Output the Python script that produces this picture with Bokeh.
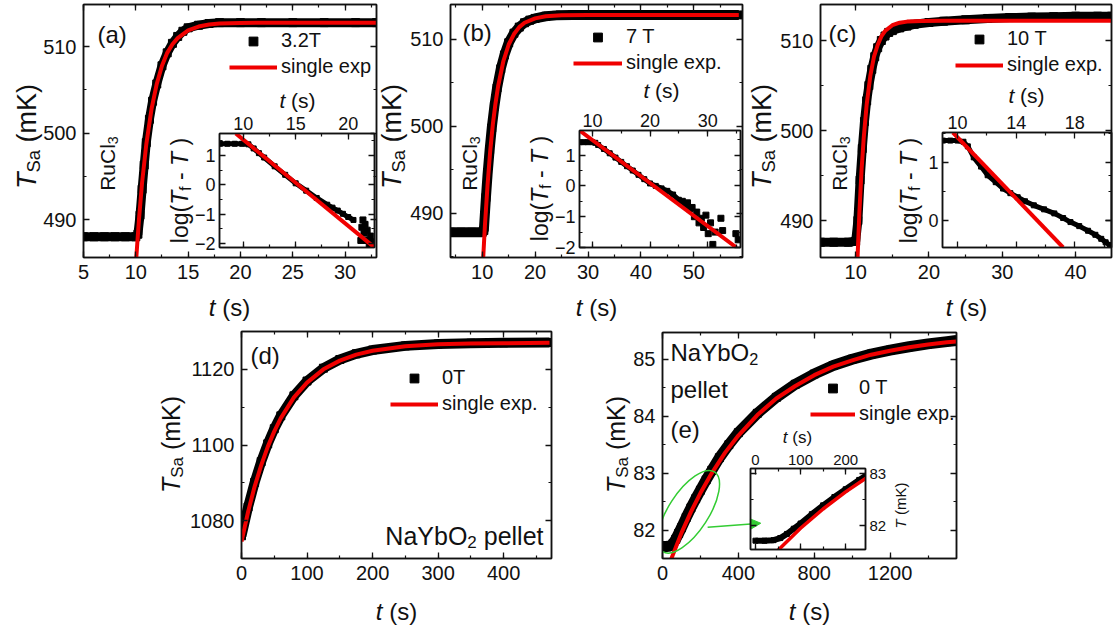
import math
from bokeh.plotting import figure
from bokeh.models import (Column, Label, Legend, LegendItem, LinearAxis, Range1d,
                          SingleIntervalTicker, FixedTicker, Arrow, NormalHead)
from bokeh.embed import file_html
from bokeh.resources import INLINE

FONT = "Liberation Sans"
INK = "#111111"
RED = "#f00000"
GREEN = "#33cc33"

# ---------------- data ----------------
# (a) RuCl3, 3.2 T
A_T = [5, 6, 7, 8, 9, 10, 10.2, 10.4, 10.6, 10.8, 11.0, 11.3, 11.6, 12.0, 12.5, 13.0, 13.5,
       14.0, 14.5, 15.0, 16.0, 17.0, 18.0, 20.0, 22.0, 25.0, 28.0, 31.0, 33.0]
A_DATA = [488.0, 488.0, 488.0, 488.0, 488.0, 488.0, 488.3, 490.5, 493.5, 496.3, 498.9, 501.6,
          503.7, 505.7, 507.8, 509.3, 510.4, 511.2, 511.8, 512.2, 512.5, 512.7, 512.8, 512.8,
          512.8, 512.8, 512.8, 512.8, 512.8]
A_FIT_T = [10.0, 10.3, 10.6, 11.0, 11.5, 12.0, 12.5, 13.0, 13.5, 14.0, 15.0, 16.0, 17.0, 18.0,
           20.0, 25.0, 33.0]
A_FIT = [484.8, 490.0, 494.3, 498.7, 502.8, 505.7, 507.8, 509.3, 510.3, 511.0, 511.9, 512.35,
         512.58, 512.69, 512.77, 512.8, 512.8]
AI_T = [7.8, 8.5, 9.2, 9.9, 10.5, 11.0, 11.5, 12.0, 13.0, 14.0, 15.0, 16.0, 17.0, 18.0, 18.5,
        19.0, 19.5, 20.0, 20.5]
AI_LOG = [1.4, 1.4, 1.4, 1.4, 1.38, 1.24, 1.08, 0.93, 0.63, 0.34, 0.05, -0.2, -0.45, -0.68,
          -0.78, -0.88, -0.99, -1.1, -1.2]
AI_TAIL_T = [21.2, 21.3, 21.4, 21.5, 21.6, 21.7, 21.8, 22.0, 22.1, 22.3, 22.4]
AI_TAIL_LOG = [-1.9, -1.45, -1.2, -1.65, -1.35, -1.9, -1.55, -2.05, -1.75, -1.95, -2.1]
AI_FIT_T = [9.3, 22.5]
AI_FIT = [1.75, -2.14]

# (b) RuCl3, 7 T
B_T = [4.0, 6.0, 8.0, 10.0, 10.3, 10.7, 11.0, 11.4, 11.8, 12.3, 12.8, 13.5, 14.2, 15.0, 16.0,
       17.0, 18.0, 19.0, 20.0, 22.0, 24.0, 27.0, 30.0, 35.0, 40.0, 45.0, 50.0, 55.0, 58.5]
B_DATA = [487.8, 487.8, 487.8, 487.8, 488.0, 491.8, 494.4, 497.3, 499.8, 502.3, 504.4, 506.6,
          508.2, 509.6, 510.7, 511.4, 511.9, 512.2, 512.4, 512.65, 512.75, 512.8, 512.8, 512.8,
          512.8, 512.8, 512.8, 512.8, 512.8]
B_FIT_T = [10.1, 10.5, 11.0, 11.5, 12.0, 12.5, 13.0, 14.0, 15.0, 16.0, 17.0, 18.0, 20.0, 22.0,
           25.0, 30.0, 58.5]
B_FIT = [483.9, 488.5, 493.2, 497.1, 500.2, 502.6, 504.6, 507.5, 509.4, 510.6, 511.4, 511.9,
         512.4, 512.64, 512.76, 512.8, 512.8]
BI_T = [7.8, 8.5, 9.2, 10.0, 10.5, 11.0, 12.0, 13.0, 14.0, 15.0, 16.0, 17.0, 18.0, 19.0, 20.0,
        21.0, 22.0, 23.0, 24.0, 25.0]
BI_LOG = [1.42, 1.42, 1.42, 1.42, 1.4, 1.33, 1.2, 1.06, 0.92, 0.78, 0.64, 0.5, 0.36, 0.22, 0.08,
          0.0, -0.08, -0.16, -0.28, -0.45]
BI_TAIL_T = [25.6, 26.1, 26.5, 26.9, 27.3, 27.7, 28.1, 28.5, 28.9, 29.3, 29.7, 30.1, 30.5,
             30.9, 31.3, 32.3, 32.6, 34.9, 35.3]
BI_TAIL_LOG = [-0.5, -0.62, -0.55, -0.75, -0.7, -1.0, -0.85, -1.2, -1.05, -1.35, -0.95, -1.55,
               -1.2, -1.9, -1.5, -1.05, -1.45, -1.55, -1.75]
BI_FIT_T = [7.76, 35.0]
BI_FIT = [1.8, -2.0]

# (c) RuCl3, 10 T
C_T = [5.2, 7, 9, 10.0, 10.3, 10.6, 10.9, 11.2, 11.5, 11.8, 12.2, 12.6, 13.0, 13.5, 14.0, 14.5,
       15.0, 16.0, 17.0, 18.0, 20.0, 22.0, 25.0, 28.0, 31.0, 34.0, 37.0, 40.0, 43.0, 44.9]
C_DATA = [487.6, 487.6, 487.6, 487.7, 490.0, 494.5, 498.0, 501.0, 503.3, 505.0, 506.8, 508.2,
          509.2, 510.0, 510.5, 510.9, 511.1, 511.4, 511.6, 511.8, 512.0, 512.15, 512.3, 512.45,
          512.55, 512.6, 512.65, 512.7, 512.7, 512.7]
C_FIT_T = [10.2, 10.5, 10.8, 11.1, 11.5, 12.0, 12.5, 13.0, 13.5, 14.0, 15.0, 16.0, 17.0, 19.0,
           22.0, 44.9]
C_FIT = [484.8, 490.8, 495.6, 499.2, 502.9, 506.1, 508.2, 509.5, 510.45, 511.05, 511.7, 511.98,
         512.1, 512.18, 512.2, 512.2]
CI_T = [9.0, 9.5, 10.0, 10.4, 10.7, 11.1, 11.6, 12.05, 12.6, 13.1, 13.6, 14.1, 14.6, 15.2, 15.9,
        16.6, 17.2, 17.7, 18.3, 18.9, 19.4, 19.8, 20.1, 20.4]
CI_LOG = [1.38, 1.38, 1.38, 1.36, 1.28, 1.09, 0.93, 0.78, 0.66, 0.55, 0.47, 0.40, 0.33, 0.26,
          0.19, 0.12, 0.04, -0.03, -0.1, -0.18, -0.25, -0.32, -0.38, -0.43]
CI_FIT_T = [9.68, 17.2]
CI_FIT = [1.52, -0.47]
CI_XTICKS = [10, 14, 18]
CI_XMINOR = [12, 16, 20]

# (d) NaYbO2 pellet, 0 T, ~1.1 K
D_T = [0, 10, 20, 30, 40, 50, 60, 80, 100, 125, 150, 175, 200, 250, 300, 350, 400, 470]
D_DATA = [1076.0, 1083.6, 1090.1, 1095.6, 1100.3, 1104.3, 1107.7, 1113.0, 1116.9, 1120.3,
          1122.6, 1124.1, 1125.1, 1126.2, 1126.7, 1126.9, 1127.0, 1127.1]
D_FIT = [1074.5, 1082.3, 1089.0, 1094.6, 1099.5, 1103.6, 1107.1, 1112.6, 1116.5, 1120.0,
         1122.3, 1123.9, 1124.9, 1126.1, 1126.6, 1126.8, 1126.9, 1127.0]

# (e) NaYbO2 pellet, 0 T, ~85 mK
E_T = [0, 20, 40, 55, 70, 85, 100, 125, 150, 175, 200, 230, 260, 300, 350, 400, 500, 600, 700,
       800, 900, 1000, 1100, 1200, 1300, 1400, 1500, 1550]
E_DATA = [81.71, 81.71, 81.72, 81.76, 81.84, 81.94, 82.04, 82.22, 82.39, 82.55, 82.7, 82.88,
          83.05, 83.27, 83.5, 83.71, 84.05, 84.33, 84.56, 84.74, 84.89, 85.0, 85.09, 85.16,
          85.22, 85.27, 85.31, 85.33]
E_FIT_T = [40, 100, 150, 200, 260, 330, 400, 500, 600, 700, 800, 900, 1000, 1100, 1200, 1300,
           1400, 1500, 1550]
E_FIT = [81.44, 81.95, 82.32, 82.65, 83.0, 83.36, 83.66, 84.02, 84.31, 84.53, 84.72, 84.87,
         84.98, 85.08, 85.15, 85.21, 85.26, 85.3, 85.31]

# ---------------- panel geometry (canvas px): outer box and plot frame ----------------
BOX_A, FA = (0, 0, 380, 320), (83, 4, 376, 257)
BOX_B, FB = (380, 0, 365, 320), (450, 4, 742, 257)
BOX_C, FC = (745, 0, 368, 320), (820, 4, 1111, 257)
BOX_D, FD = (150, 320, 410, 310), (241, 331, 551, 558)
BOX_E, FE = (560, 320, 553, 310), (662, 332, 956, 558)
BOX_AI, FAI = (165, 85, 212, 177), (219, 133, 374, 247)
BOX_BI, FBI = (525, 82, 218, 180), (579, 130, 740, 247)
BOX_CI, FCI = (888, 84, 225, 178), (942, 132, 1111, 247)
BOX_EI, FEI = (745, 420, 175, 140), (750, 468, 865, 549)
PAGE_W, PAGE_H = 1113, 630


def pin(p, left, top, width, height):
    p.frame_align = False
    p.stylesheets = [f":host {{ position: absolute !important; left: {left}px !important; "
                     f"top: {top}px !important; width: {width}px !important; "
                     f"height: {height}px !important; }}"]


def make_panel(box, frame, xr, yr, xt, yt, labelled=("below", "left"), tick_px=20,
               standoff=6, inset=False, xfixed=None):
    left, top, width, height = box
    fl, ft, fr, fb = frame
    p = figure(width=width, height=height, x_range=Range1d(*xr), y_range=Range1d(*yr),
               output_backend="svg", toolbar_location=None, tools="",
               x_axis_location=None, y_axis_location=None)
    p.min_border_left = fl - left
    p.min_border_top = ft - top
    p.min_border_right = left + width - fr
    p.min_border_bottom = top + height - fb
    p.grid.visible = False
    p.outline_line_color = INK
    p.outline_line_width = 1.5
    if inset:
        p.border_fill_alpha = 0
        p.background_fill_alpha = 0
    else:
        p.border_fill_color = "white"
        p.background_fill_color = "white"
    for side in ("below", "above", "left", "right"):
        horizontal = side in ("below", "above")
        if horizontal and xfixed is not None:
            ticker = FixedTicker(ticks=xfixed[0], minor_ticks=xfixed[1])
        else:
            ticker = SingleIntervalTicker(interval=xt if horizontal else yt, num_minor_ticks=2)
        ax = LinearAxis(ticker=ticker)
        ax.axis_line_color = INK
        ax.axis_line_width = 1.5
        ax.major_tick_in, ax.major_tick_out = 6, 0
        ax.minor_tick_in, ax.minor_tick_out = 3, 0
        ax.major_tick_line_color = INK
        ax.minor_tick_line_color = INK
        ax.major_tick_line_width = 1.3
        ax.minor_tick_line_width = 1.2
        ax.major_label_text_font = FONT
        ax.axis_label = None
        ax.axis_label_standoff = 0
        if side in labelled:
            ax.major_label_text_color = INK
            ax.major_label_text_font_size = f"{tick_px}px"
            ax.major_label_standoff = standoff
        else:
            # mirror axis: ticks only
            ax.major_label_text_color = None
            ax.major_label_text_font_size = "0px"
            ax.major_label_standoff = 0
        p.add_layout(ax, side)
    pin(p, left, top, width, height)
    return p


def band(p, xs, ys, lw, ms):
    p.line(xs, ys, line_width=lw, color="black")
    return p.scatter(xs, ys, marker="square", size=ms, color="black")


def fit(p, xs, ys, lw=4):
    return p.line(xs, ys, line_width=lw, color=RED)


def legend(p, frame, sq, ln, lab1, lab2, gx, row1, gw, size=20):
    fl, ft, fr, fb = frame
    leg = Legend(items=[LegendItem(label=lab1, renderers=[sq]),
                        LegendItem(label=lab2, renderers=[ln])],
                 location=(gx - fl, fb - (row1 + 25 + 11)))
    leg.glyph_width = gw
    leg.glyph_height = 22
    leg.label_height = 22
    leg.label_standoff = 4
    leg.spacing = 3
    leg.padding = 0
    leg.margin = 0
    leg.border_line_alpha = 0
    leg.background_fill_alpha = 0
    leg.label_text_font = FONT
    leg.label_text_font_size = f"{size}px"
    leg.label_text_color = INK
    p.add_layout(leg)


# ---------------- text layer over the whole page ----------------
pT = figure(width=PAGE_W, height=PAGE_H, x_range=Range1d(0, PAGE_W), y_range=Range1d(PAGE_H, 0),
            output_backend="svg", toolbar_location=None, tools="",
            x_axis_location=None, y_axis_location=None, min_border=0)
pT.grid.visible = False
pT.outline_line_color = None
pT.border_fill_alpha = 0
pT.background_fill_alpha = 0
pin(pT, 0, 0, PAGE_W, PAGE_H)

ADV = {' ': .278, '(': .333, ')': .333, '-': .333, '.': .278, 'C': .722, 'K': .667, 'N': .722,
       'O': .778, 'R': .722, 'S': .667, 'T': .611, 'Y': .667, 'a': .556, 'b': .556, 'e': .556,
       'f': .278, 'g': .556, 'l': .222, 'm': .833, 'o': .556, 'p': .556, 's': .5, 't': .278,
       'u': .556, 'x': .5, 'i': .222, 'n': .556}
SUB = 0.68


def text_width(s, size):
    return sum(ADV.get(c, 0.556) for c in s) * size


def rich(cx, cy, pieces, size, angle=0.0, align="center"):
    """Run of styled pieces; (cx, cy) is the text's middle line in page pixels."""
    sizes = [size * SUB if k == "sub" else size for (_, _, k) in pieces]
    widths = [text_width(t, s) for (t, _, _), s in zip(pieces, sizes)]
    total = sum(widths)
    pos = {"left": 0.0, "center": -total / 2, "right": -total}[align]
    for (t, style, kind), s, w in zip(pieces, sizes, widths):
        lead = len(t) - len(t.lstrip(" "))
        core = t.strip(" ")
        off = pos + lead * ADV[" "] * s
        drop = size * 0.26 if kind == "sub" else 0.0
        if angle == 0:
            px, py = cx + off, cy + drop
        else:
            px, py = cx + drop, cy - off
        if core:
            pT.add_layout(Label(x=px, y=py, text=core, angle=angle,
                                text_font=FONT, text_font_size=f"{s:.1f}px",
                                text_font_style=style, text_color=INK,
                                text_align="left", text_baseline="middle"))
        pos += w


XL = [("t", "italic", "n"), (" (s)", "normal", "n")]
YL = [("T", "italic", "n"), ("Sa", "normal", "sub"), (" (mK)", "normal", "n")]
LOGL = [("log(", "normal", "n"), ("T", "italic", "n"), ("f", "normal", "sub"),
        (" - ", "normal", "n"), ("T", "italic", "n"), (" )", "normal", "n")]
RU = [("RuCl", "normal", "n"), ("3", "normal", "sub")]
NA = [("NaYbO", "normal", "n"), ("2", "normal", "sub")]
UP = math.pi / 2

# ---- (a) ----
pA = make_panel(BOX_A, FA, (5, 33.0), (485.6, 514.9), 5, 10, standoff=7)
sqA = band(pA, A_T, A_DATA, 9, 8)
lnA = fit(pA, A_FIT_T, A_FIT)
legend(pA, FA, sqA, lnA, "3.2T", "single exp", 229, 42, 48)
rich(97, 34, [("(a)", "normal", "n")], 24, align="left")
rich(107, 163, RU, 21, angle=UP)
rich(26, 136, YL, 27, angle=UP)
rich(229, 307, XL, 24)

# ---- (b) ----
pB = make_panel(BOX_B, FB, (4.0, 59.2), (484.9, 514.0), 10, 10, standoff=7)
sqB = band(pB, B_T, B_DATA, 10, 8)
lnB = fit(pB, B_FIT_T, B_FIT)
legend(pB, FB, sqB, lnB, "7 T", "single exp.", 573, 38, 49)
rich(462, 32, [("(b)", "normal", "n")], 24, align="left")
rich(469, 163, RU, 21, angle=UP)
rich(391, 136, YL, 27, angle=UP)
rich(596, 307, XL, 24)

# ---- (c) ----
pC = make_panel(BOX_C, FC, (5.2, 44.9), (485.9, 514.0), 10, 10, standoff=7)
sqC = band(pC, C_T, C_DATA, 9, 8)
lnC = fit(pC, C_FIT_T, C_FIT)
legend(pC, FC, sqC, lnC, "10 T", "single exp.", 955, 40, 48)
rich(828, 33, [("(c)", "normal", "n")], 24, align="left")
rich(839, 163, RU, 21, angle=UP)
rich(761, 136, YL, 27, angle=UP)
rich(966, 307, XL, 24)

# ---- (d) ----
pD = make_panel(BOX_D, FD, (0, 473), (1070, 1130), 100, 20, standoff=7)
sqD = band(pD, D_T, D_DATA, 10, 8)
lnD = fit(pD, D_T, D_FIT)
legend(pD, FD, sqD, lnD, "0T", "single exp.", 390, 379, 48)
rich(250, 355, [("(d)", "normal", "n")], 24, align="left")
rich(543, 535, NA + [(" pellet", "normal", "n")], 25, align="right")
rich(170, 444, YL, 25, angle=UP)
rich(396, 611, XL, 24)

# ---- (e) ----
pE = make_panel(BOX_E, FE, (0, 1550), (81.5, 85.47), 400, 1, standoff=7)
sqE = band(pE, E_T, E_DATA, 11, 8)
lnE = fit(pE, E_FIT_T, E_FIT)
legend(pE, FE, sqE, lnE, "0 T", "single exp.", 810, 389, 45)
rich(670, 352, NA, 24, align="left")
rich(670, 389, [("pellet", "normal", "n")], 24, align="left")
rich(670, 429, [("(e)", "normal", "n")], 24, align="left")
rich(615, 444, YL, 25, angle=UP)
rich(809, 611, XL, 24)
pE.ellipse(x=[138], y=[82.32], width=95, height=40, angle=0.995,
           width_units="screen", height_units="screen",
           fill_color=None, line_color=GREEN, line_width=1.5)
pE.add_layout(Arrow(end=NormalHead(size=10, fill_color=GREEN, line_color=GREEN),
                    x_start=238, y_start=82.05, x_end=518, y_end=82.12,
                    line_color=GREEN, line_width=1.5))

# ---- insets ----
pAI = make_panel(BOX_AI, FAI, (7.75, 22.5), (-2.14, 1.75), 5, 1,
                 labelled=("above", "left"), tick_px=18, standoff=4, inset=True)
band(pAI, AI_T, AI_LOG, 5, 5)
pAI.scatter(AI_TAIL_T, AI_TAIL_LOG, marker="square", size=6, color="black")
fit(pAI, AI_FIT_T, AI_FIT)
rich(297, 100, XL, 21)
rich(179, 190, LOGL, 23, angle=UP)

pBI = make_panel(BOX_BI, FBI, (7.76, 35.7), (-2.0, 1.8), 10, 1,
                 labelled=("above", "left"), tick_px=18, standoff=4, inset=True)
band(pBI, BI_T, BI_LOG, 5, 5)
pBI.scatter(BI_TAIL_T, BI_TAIL_LOG, marker="square", size=6, color="black")
fit(pBI, BI_FIT_T, BI_FIT)
rich(661, 90, XL, 21)
rich(539, 188, LOGL, 23, angle=UP)

pCI = make_panel(BOX_CI, FCI, (8.97, 20.5), (-0.47, 1.52), 4, 1,
                 labelled=("above", "left"), tick_px=18, standoff=4, inset=True,
                 xfixed=(CI_XTICKS, CI_XMINOR))
band(pCI, CI_T, CI_LOG, 5, 5)
fit(pCI, CI_FIT_T, CI_FIT)
rich(1026, 95, XL, 21)
rich(908, 190, LOGL, 23, angle=UP)

pEI = make_panel(BOX_EI, FEI, (-11, 244), (81.54, 83.1), 100, 1,
                 labelled=("above", "right"), tick_px=15, standoff=4, inset=True)
band(pEI, E_T, E_DATA, 6, 5)
fit(pEI, E_FIT_T, E_FIT, lw=3.5)
rich(797, 437, XL, 17)
rich(900, 505, [("T", "italic", "n"), (" (mK)", "normal", "n")], 15, angle=UP)

# ---------------- page: panels placed absolutely, insets and text layer on top ----------------
page = Column(children=[pA, pB, pC, pD, pE, pAI, pBI, pCI, pEI, pT],
              width=PAGE_W, height=PAGE_H,
              stylesheets=[f":host {{ position: relative !important; width: {PAGE_W}px !important; "
                           f"height: {PAGE_H}px !important; }}"])

open("out.html", "w").write(file_html(page, INLINE))
